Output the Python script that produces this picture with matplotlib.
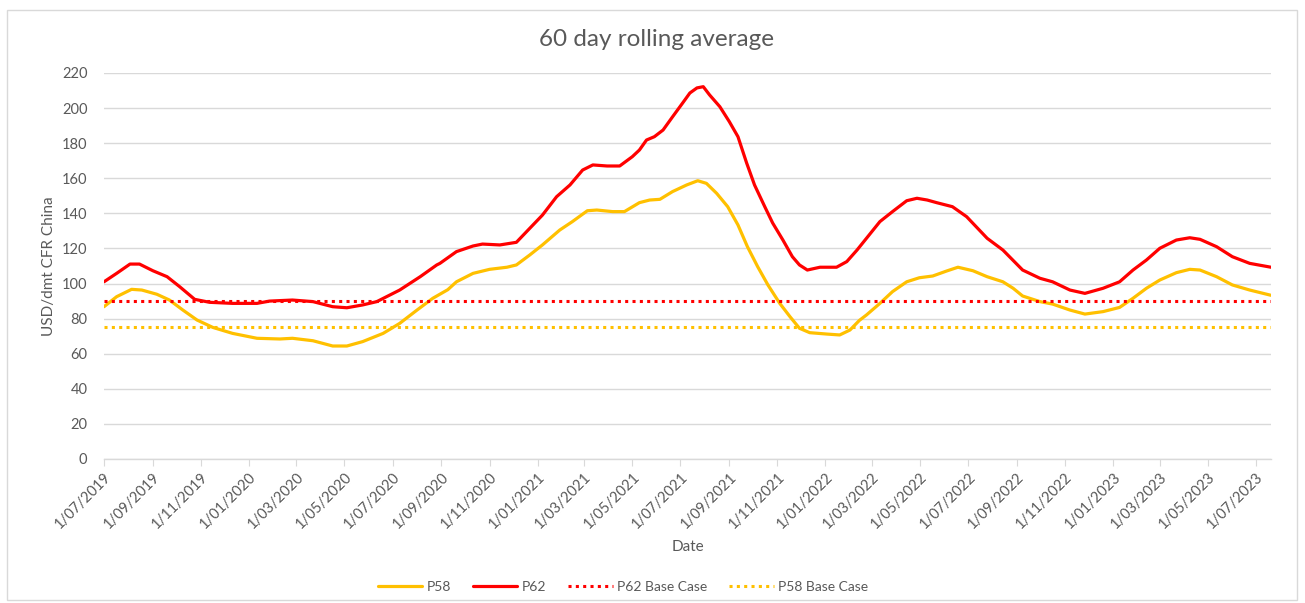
import datetime as dt
import matplotlib
matplotlib.use("Agg")
import matplotlib.pyplot as plt
from matplotlib.patches import Rectangle

# ---------------- data ----------------
p62_dates = ["2019-07-01", "2019-07-17", "2019-08-03", "2019-08-15", "2019-09-01", "2019-09-19",
             "2019-10-05", "2019-10-24", "2019-11-12", "2019-12-11", "2020-01-11", "2020-01-27",
             "2020-02-25", "2020-03-22", "2020-04-16", "2020-05-04", "2020-05-24", "2020-06-11",
             "2020-07-10", "2020-08-05", "2020-08-26", "2020-08-30", "2020-09-20", "2020-10-11",
             "2020-10-23", "2020-11-14", "2020-12-05", "2020-12-22", "2021-01-07", "2021-01-25",
             "2021-02-11", "2021-02-27", "2021-03-12", "2021-03-30", "2021-04-15", "2021-05-01",
             "2021-05-10", "2021-05-19", "2021-05-29", "2021-06-09", "2021-06-21", "2021-07-04",
             "2021-07-13", "2021-07-22", "2021-07-30", "2021-08-07", "2021-08-20", "2021-09-01",
             "2021-09-12", "2021-09-23", "2021-10-03", "2021-10-16", "2021-10-26", "2021-11-08",
             "2021-11-20", "2021-11-29", "2021-12-09", "2021-12-25", "2022-01-15", "2022-01-28",
             "2022-02-10", "2022-03-11", "2022-03-27", "2022-04-14", "2022-04-27", "2022-05-10",
             "2022-05-22", "2022-06-11", "2022-06-29", "2022-07-25", "2022-08-14", "2022-09-08",
             "2022-09-30", "2022-10-16", "2022-11-07", "2022-11-26", "2022-12-19", "2023-01-09",
             "2023-01-26", "2023-02-12", "2023-03-01", "2023-03-22", "2023-04-08", "2023-04-21",
             "2023-05-12", "2023-06-01", "2023-06-23", "2023-07-20"]
p62_values = [101, 105.8, 111.1, 111.1, 107.3, 103.9,
              98.2, 91, 89.3, 88.7, 88.7, 90,
              90.6, 89.7, 86.8, 86.2, 87.8, 89.7,
              96.3, 103.9, 110.6, 111.5, 118.2, 121.4,
              122.5, 122, 123.5, 131.5, 139, 149.5,
              156.2, 164.7, 167.6, 167, 167, 172.3,
              176.1, 181.8, 183.7, 187.5, 195, 203,
              208.6, 211.5, 212.2, 207.5, 200.8, 192.3,
              183.7, 168.7, 156.2, 143.8, 134.5, 124.8,
              115.3, 110.6, 107.7, 109.3, 109.3, 112.5,
              119.1, 135.3, 141, 147.2, 148.6, 147.6,
              146.1, 143.8, 138.1, 125.8, 119.1, 107.7,
              103, 101, 96.3, 94.4, 97.3, 101,
              107.7, 113.4, 120.1, 124.8, 126.1, 125.2,
              121, 115.3, 111.5, 109.3]

p58_dates = ["2019-07-01", "2019-07-17", "2019-08-05", "2019-08-18", "2019-09-06", "2019-09-22",
             "2019-10-09", "2019-10-27", "2019-11-16", "2019-12-11", "2020-01-11", "2020-02-09",
             "2020-02-25", "2020-03-22", "2020-04-16", "2020-05-04", "2020-05-24", "2020-06-19",
             "2020-07-10", "2020-08-01", "2020-08-21", "2020-09-09", "2020-09-20", "2020-10-11",
             "2020-11-01", "2020-11-23", "2020-12-05", "2020-12-22", "2021-01-07", "2021-01-29",
             "2021-02-14", "2021-03-05", "2021-03-17", "2021-04-06", "2021-04-21", "2021-05-10",
             "2021-05-23", "2021-06-05", "2021-06-21", "2021-07-09", "2021-07-23", "2021-08-03",
             "2021-08-16", "2021-08-30", "2021-09-12", "2021-09-24", "2021-10-07", "2021-10-20",
             "2021-11-04", "2021-11-17", "2021-11-29", "2021-12-12", "2022-01-03", "2022-01-19",
             "2022-02-01", "2022-02-13", "2022-02-22", "2022-03-11", "2022-03-27", "2022-04-14",
             "2022-04-30", "2022-05-17", "2022-06-04", "2022-06-18", "2022-07-07", "2022-07-25",
             "2022-08-14", "2022-08-27", "2022-09-08", "2022-09-30", "2022-10-16", "2022-11-07",
             "2022-11-26", "2022-12-19", "2023-01-09", "2023-01-26", "2023-02-12", "2023-03-01",
             "2023-03-22", "2023-04-08", "2023-04-21", "2023-05-12", "2023-06-01", "2023-06-23",
             "2023-07-20"]
p58_values = [86.8, 92.5, 96.7, 96.3, 93.9, 90.6,
              84.9, 79.2, 75, 71.6, 68.8, 68.4,
              68.8, 67.4, 64.4, 64.4, 66.9, 71.6,
              77.3, 84.9, 91.6, 96.5, 101, 105.8,
              108.1, 109.3, 110.6, 116.3, 122, 130.5,
              135.3, 141.5, 141.9, 141, 141, 146.1,
              147.6, 148, 152.4, 156.2, 158.6, 157.1,
              151.4, 143.8, 133.4, 121, 109.6, 99.2,
              88.7, 81.1, 74.5, 72, 71.2, 70.7,
              73.5, 79, 82.1, 88.7, 95.4, 101,
              103.3, 104.3, 107.2, 109.3, 107.3, 103.9,
              101, 97.3, 92.9, 89.7, 88.3, 84.9,
              82.6, 84, 86.4, 91.6, 97.3, 102,
              106.2, 108.1, 107.7, 103.9, 99.2, 96.3,
              93.3]

p62_base = 90
p58_base = 75

tick_dates = ["2019-07-01", "2019-09-01", "2019-11-01", "2020-01-01", "2020-03-01", "2020-05-01",
              "2020-07-01", "2020-09-01", "2020-11-01", "2021-01-01", "2021-03-01", "2021-05-01",
              "2021-07-01", "2021-09-01", "2021-11-01", "2022-01-01", "2022-03-01", "2022-05-01",
              "2022-07-01", "2022-09-01", "2022-11-01", "2023-01-01", "2023-03-01", "2023-05-01",
              "2023-07-01"]
y_ticks = list(range(0, 221, 20))

# ---------------- drawing ----------------
def d(s):
    return dt.datetime.strptime(s, "%Y-%m-%d")

plt.rcParams['font.family'] = ['Lato', 'DejaVu Sans']
TXT = "#595959"
YEL = "#FFC000"
RED = "#FF0000"

fig = plt.figure(figsize=(13.05, 6.03), dpi=100)
fig.patches.append(Rectangle((7/1305, 3/603), 1290/1305, 590/603, transform=fig.transFigure,
                             fill=False, edgecolor="#d9d9d9", linewidth=1.0))
ax = fig.add_axes([104/1305, 1-459/603, (1271-104)/1305, (459-73)/603])

ax.plot([d(s) for s in p58_dates], p58_values, color=YEL, lw=2.3, label="P58",
        solid_capstyle="round", solid_joinstyle="round")
ax.plot([d(s) for s in p62_dates], p62_values, color=RED, lw=2.3, label="P62",
        solid_capstyle="round", solid_joinstyle="round")
ax.axhline(p62_base, color=RED, lw=2.2, linestyle=(0, (1, 1.4)), label="P62 Base Case")
ax.axhline(p58_base, color=YEL, lw=2.2, linestyle=(0, (1, 1.4)), label="P58 Base Case")

ax.set_xlim(d("2019-07-01"), d("2023-07-20"))
ax.set_ylim(0, 220)
ax.set_yticks(y_ticks)
ax.yaxis.grid(True, color="#d9d9d9", lw=1.0)
ax.set_axisbelow(True)
for side in ("left", "right", "top"):
    ax.spines[side].set_visible(False)
ax.spines["bottom"].set_color("#d9d9d9")
ax.spines["bottom"].set_linewidth(1.0)
ax.tick_params(axis="y", length=0, labelsize=10.5, labelcolor=TXT, pad=12)
tds = [d(s) for s in tick_dates]
ax.set_xticks(tds)
ax.set_xticklabels([f"{t.day}/{t.month:02d}/{t.year}" for t in tds], rotation=45,
                   ha="right", rotation_mode="anchor")
ax.tick_params(axis="x", length=5, color="#d9d9d9", labelsize=10.5, labelcolor=TXT, pad=3)

ax.set_ylabel("USD/dmt CFR China", fontsize=11, color=TXT, labelpad=4)
ax.set_xlabel("Date", fontsize=11, color=TXT, labelpad=6)
fig.text(0.503, 1-40/603, "60 day rolling average", ha="center", va="center", fontsize=17.5, color=TXT)

leg = fig.legend(loc="center", bbox_to_anchor=(623/1305, 1-587/603), ncol=4, frameon=False,
                 fontsize=10, handlelength=3.2, columnspacing=1.6, handletextpad=0.3)
for t in leg.get_texts():
    t.set_color(TXT)

fig.savefig("out.png", dpi=100)
